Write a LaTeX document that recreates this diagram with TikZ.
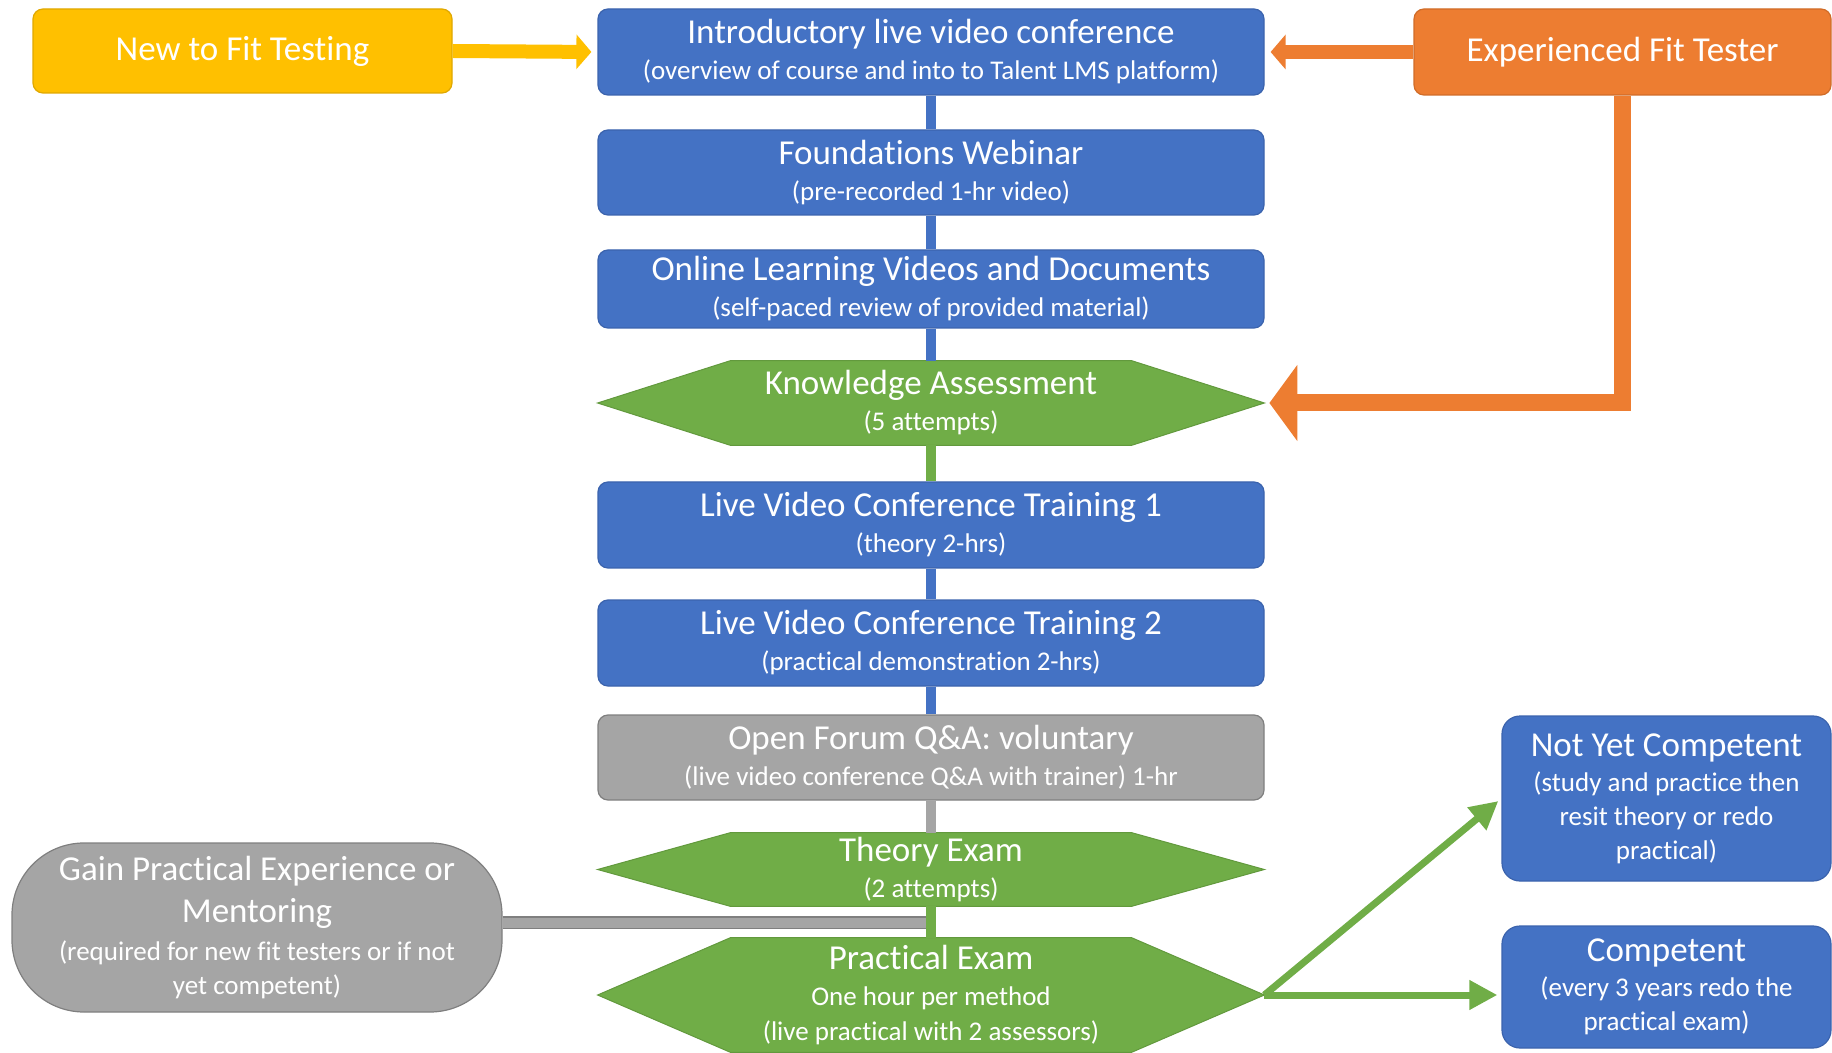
\documentclass[tikz,border=0pt]{standalone}
\usepackage{fontspec}
\setmainfont{Carlito}[Ligatures=NoCommon]
\usetikzlibrary{arrows.meta, backgrounds}

\definecolor{boxblue}{HTML}{4472C4}
\definecolor{blueedge}{HTML}{3B63AD}
\definecolor{boxgreen}{HTML}{70AD47}
\definecolor{greenedge}{HTML}{62993D}
\definecolor{boxorange}{HTML}{ED7D31}
\definecolor{orangeedge}{HTML}{D06C28}
\definecolor{boxyellow}{HTML}{FFC000}
\definecolor{yellowedge}{HTML}{E0A800}
\definecolor{boxgray}{HTML}{A5A5A5}
\definecolor{grayedge}{HTML}{7F7F7F}

\newcommand{\bigline}[1]{{\fontsize{17.5pt}{21pt}\selectfont #1}}

\begin{document}
\begin{tikzpicture}[
		x=1pt, y=1pt,
		node distance=58pt,
		font=\fontsize{13.5pt}{17pt}\selectfont,
		stepbox/.style={rectangle,rounded corners=5pt,draw=blueedge,fill=boxblue,line width=0.6pt,
			text=white,align=center,minimum width=333pt,minimum height=43pt,inner sep=1pt},
		hexbox/.style={rectangle,text=white,align=center,minimum width=333pt,minimum height=42pt,inner sep=0pt},
		sidebox/.style={rectangle,rounded corners=5pt,line width=0.6pt,text=white,align=center,inner sep=1pt},
		link/.style={line width=5pt},
		fatarrow/.style={line width=7pt,-{Triangle[width=17pt,length=7.5pt]},shorten >=3pt}
		]
		\useasboundingbox (0,0) rectangle (916,-526.5);

		% main column
		\node[stepbox](intro) at (465.5,-26){\bigline{Introductory live video conference}\\[1pt](overview of course and into to Talent LMS platform)};
		\node[stepbox, below of = intro, yshift = -2.25pt, minimum height=42.5pt](found){\bigline{Foundations Webinar}\\[1pt](pre-recorded 1-hr video)};
		\node[stepbox, below of = found, yshift = -0.25pt, minimum height=39pt](online){\bigline{Online Learning Videos and Documents}\\[1pt](self-paced review of provided material)};
		\node[hexbox, below of = online, yshift = 1pt](know){\bigline{Knowledge Assessment}\\[1pt](5 attempts)};
		\node[stepbox, below of = know, yshift = -3pt](live1){\bigline{Live Video Conference Training 1}\\[1pt](theory 2-hrs)};
		\node[stepbox, below of = live1, yshift = -1pt](live2){\bigline{Live Video Conference Training 2}\\[1pt](practical demonstration 2-hrs)};
		\node[stepbox, fill=boxgray, draw=grayedge, below of = live2, yshift = 0.75pt, minimum height=42.5pt](forum){\bigline{Open Forum Q\&A: voluntary}\\[1pt](live video conference Q\&A with trainer) 1-hr};
		\node[hexbox, below of = forum, yshift = 2pt, minimum height=36.5pt](theory){\bigline{Theory Exam}\\[1pt](2 attempts)};
		\node[hexbox, below of = theory, yshift = -4.75pt, minimum height=57pt](prac){\bigline{Practical Exam}\\[1pt]One hour per method\\[0.5pt](live practical with 2 assessors)};

		% side boxes
		\node[sidebox, fill=boxyellow, draw=yellowedge, minimum width=209.5pt, minimum height=42pt](newfit) at (121.25,-25.5){\bigline{New to Fit Testing}};
		\node[sidebox, fill=boxorange, draw=orangeedge, minimum width=208.5pt, minimum height=43pt](exper) at (811.25,-26){\bigline{Experienced Fit Tester}};
		\node[stepbox, rounded corners=9pt, minimum width=164.5pt, minimum height=82.5pt](notyet) at (833.25,-399.25){\bigline{Not Yet Competent}\\[0.5pt](study and practice then\\resit theory or redo\\practical)};
		\node[stepbox, rounded corners=9pt, minimum width=164.5pt, minimum height=61pt](comp) at (833.25,-493.5){\bigline{Competent}\\[0.5pt](every 3 years redo the\\practical exam)};
		\node[sidebox, rounded corners=36pt, fill=boxgray, draw=grayedge, minimum width=245pt, minimum height=84.5pt](gain) at (128.5,-463.75){\bigline{Gain Practical Experience or}\\[4pt]\bigline{Mentoring}\\[2pt](required for new fit testers or if not\\yet competent)};

		\begin{scope}[on background layer]
			\foreach \h in {know, theory, prac}
			\filldraw[fill=boxgreen, draw=greenedge, line width=0.5pt] (\h.west) -- ([xshift=66.5pt]\h.north west) -- ([xshift=-66.5pt]\h.north east)
				-- (\h.east) -- ([xshift=-66.5pt]\h.south east) -- ([xshift=66.5pt]\h.south west) -- cycle;
		\end{scope}

		% connectors
		\draw[link, boxblue] (intro.south) -- (found.north);
		\draw[link, boxblue] (found.south) -- (online.north);
		\draw[link, boxblue] (online.south) -- (know.north);
		\draw[link, boxgreen] (know.south) -- (live1.north);
		\draw[link, boxblue] (live1.south) -- (live2.north);
		\draw[link, boxblue] (live2.south) -- (forum.north);
		\draw[link, boxgray] (forum.south) -- (theory.north);
		\draw[grayedge, double=boxgray, double distance=5pt, line width=0.6pt] ([yshift=2.5pt]gain.east) -- ([yshift=2.5pt]gain.east -| theory.south);
		\draw[link, boxgreen] (theory.south) -- (prac.north);

		\draw[fatarrow, boxyellow] (newfit.east) -- (intro.west);
		\draw[fatarrow, boxorange] (exper.west) -- (intro.east);
		\draw[boxorange, line width=8.5pt, -{Triangle[width=37.5pt,length=14pt]}, shorten >=2.5pt] (exper.south) |- (know.east);

		\draw[boxgreen, line width=3.5pt, -{Triangle[width=14pt,length=14pt]}, shorten >=2pt] (prac.east) -- (notyet.west);
		\draw[boxgreen, line width=3.5pt, -{Triangle[width=14pt,length=14pt]}, shorten >=2pt] (prac.east) -- (prac.east -| comp.west);

	\end{tikzpicture}
\end{document}
